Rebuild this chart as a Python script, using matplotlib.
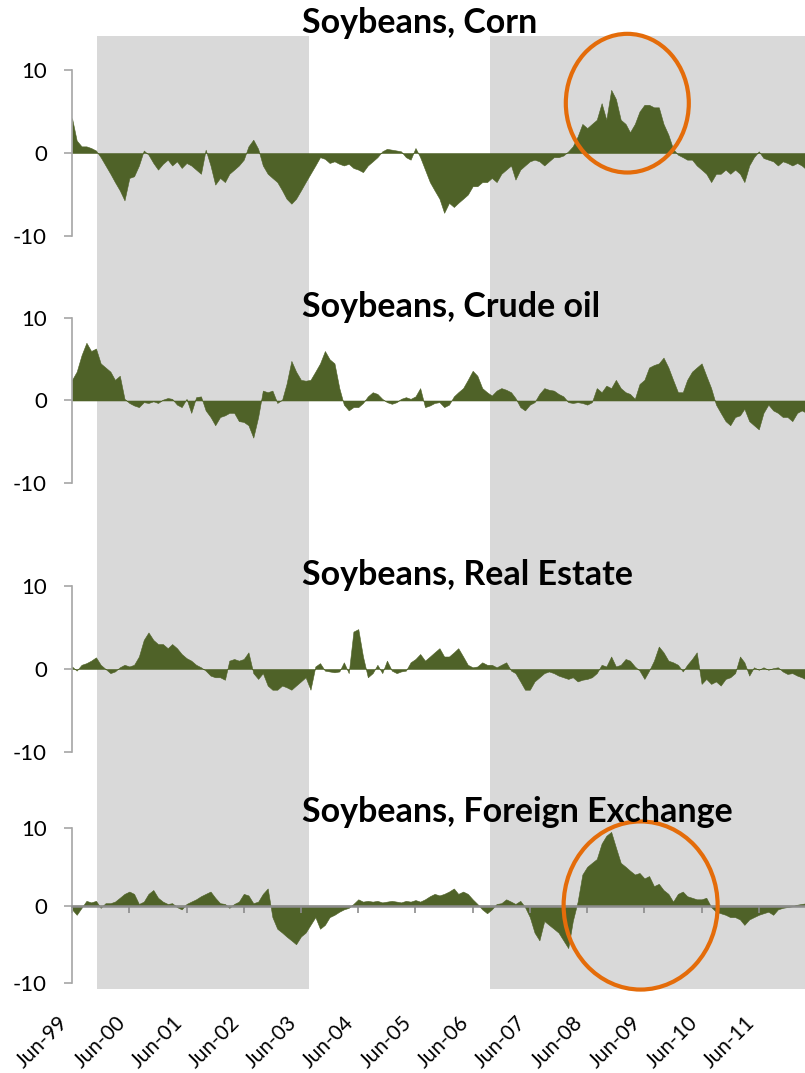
"""Rolling correlation-style panels: soybeans against four other markets."""

import matplotlib
import matplotlib.dates as mdates
import numpy as np
import pandas as pd
from matplotlib.patches import Ellipse

matplotlib.use("Agg")
import matplotlib.pyplot as plt  # noqa: E402

plt.rcParams["font.family"] = ["Lato", "DejaVu Sans"]
plt.rcParams["axes.unicode_minus"] = False

# monthly readings, Jun-99 .. Apr-12
months = pd.date_range("1999-06-01", periods=155, freq="MS")

corn = [
    4.2, 1.5, 0.8, 0.8, 0.6, 0.3, -0.5, -1.5, -2.5, -3.5, -4.5, -5.7,
    -3.0, -2.8, -1.5, 0.3, -0.2, -1.2, -2.0, -1.3, -0.8, -1.5, -1.0, -1.8,
    -1.2, -1.5, -2.0, -2.5, 0.4, -1.5, -3.8, -3.0, -3.5, -2.5, -2.0, -1.5,
    -0.8, 0.8, 1.6, 0.5, -1.5, -2.5, -3.0, -3.5, -4.5, -5.5, -6.1, -5.5,
    -4.5, -3.5, -2.5, -1.5, -0.5, -0.7, -1.2, -1.0, -1.3, -1.5, -1.3, -1.8,
    -2.0, -2.3, -1.5, -1.0, -0.5, 0.2, 0.5, 0.4, 0.3, 0.2, -0.5, -0.8,
    0.6, -0.5, -2.0, -3.5, -4.5, -5.5, -7.2, -6.0, -6.5, -6.0, -5.5, -5.0,
    -4.0, -4.0, -3.5, -3.5, -3.0, -3.5, -2.5, -2.0, -1.5, -3.2, -2.0, -1.5,
    -1.0, -0.8, -1.0, -1.5, -1.0, -0.5, -0.5, -0.3, 0.2, 0.8, 2.0, 3.5,
    3.0, 3.5, 4.0, 6.0, 4.0, 7.6, 6.5, 4.0, 3.5, 2.5, 3.5, 5.0,
    5.8, 5.8, 5.5, 5.5, 3.5, 2.2, 0.5, -0.2, -0.5, -0.8, -0.8, -1.5,
    -2.0, -2.5, -3.5, -2.5, -2.5, -2.0, -2.5, -2.0, -2.5, -3.5, -1.5, -0.5,
    0.2, -0.6, -0.8, -1.0, -1.5, -1.0, -1.2, -1.5, -1.2, -1.5, -2.0,
]
crude_oil = [
    2.5, 3.5, 5.5, 7.0, 6.0, 6.3, 4.5, 4.0, 3.5, 2.5, 3.0, 0.2,
    -0.3, -0.6, -0.8, -0.2, -0.3, -0.1, -0.3, 0.1, 0.3, 0.2, -0.5, -0.8,
    0.2, -1.5, 0.4, 0.5, -1.2, -2.0, -3.0, -2.0, -1.8, -1.5, -1.5, -2.5,
    -2.6, -3.0, -4.5, -2.0, 1.2, 1.0, 1.2, -0.3, 0.1, 2.0, 4.8, 3.5,
    2.5, 2.4, 2.5, 3.5, 4.5, 6.0, 5.0, 4.5, 1.5, -0.5, -1.2, -0.8,
    -0.8, -0.3, 0.5, 1.0, 0.8, 0.2, -0.2, -0.4, -0.2, 0.2, 0.4, 0.2,
    0.5, 1.5, -0.8, -0.6, -0.3, -0.2, -0.8, -0.5, 0.5, 1.0, 1.5, 2.5,
    3.6, 3.0, 1.5, 1.0, 0.6, 1.2, 1.5, 1.3, 1.0, 0.3, -0.8, -1.2,
    -0.5, -0.2, 0.8, 1.5, 1.3, 1.2, 0.8, 0.5, -0.2, -0.3, -0.2, -0.3,
    -0.5, -0.2, 1.5, 1.0, 1.8, 1.5, 2.5, 1.5, 1.0, 0.8, 0.2, 2.0,
    2.5, 4.0, 4.3, 4.5, 5.2, 4.0, 2.5, 1.0, 1.0, 2.5, 3.5, 4.0,
    4.5, 3.0, 1.5, -0.5, -1.5, -2.5, -3.0, -2.0, -1.8, -1.0, -2.5, -3.0,
    -3.5, -1.5, -0.5, -1.2, -1.5, -2.0, -2.0, -2.5, -1.5, -1.2, -1.5,
]
real_estate = [
    0.3, -0.2, 0.5, 0.7, 1.0, 1.4, 0.5, 0.0, -0.5, -0.3, 0.2, 0.5,
    0.3, 0.5, 1.5, 3.5, 4.4, 3.5, 3.0, 3.0, 2.5, 3.0, 2.5, 1.8,
    1.3, 1.0, 0.5, 0.2, -0.2, -0.8, -1.0, -1.0, -1.3, 1.0, 1.2, 1.0,
    1.2, 2.0, -0.5, -1.2, -0.5, -2.0, -2.5, -2.5, -2.0, -2.2, -2.5, -2.0,
    -1.5, -1.0, -2.5, 0.3, 0.7, -0.2, -0.3, -0.4, -0.3, 0.8, -0.5, 4.5,
    4.8, 1.5, -1.0, -0.5, 0.5, -0.5, 1.0, -0.2, -0.5, -0.3, -0.2, 0.8,
    1.2, 1.8, 1.0, 1.5, 2.0, 2.5, 1.5, 1.5, 2.0, 2.5, 1.5, 0.5,
    0.2, 0.3, 0.8, 0.5, 0.5, 0.2, 0.5, 0.8, -0.2, -0.5, -1.5, -2.5,
    -2.5, -1.5, -1.0, -0.5, -0.3, -0.5, -0.8, -1.0, -1.2, -1.0, -1.5, -1.3,
    -1.2, -1.0, -0.5, 0.5, 0.3, 1.5, 0.3, 0.5, 1.2, 1.0, 0.3, -0.2,
    -1.2, -0.2, 1.0, 2.7, 2.0, 1.0, 0.8, 0.5, -0.3, 0.5, 1.2, 2.0,
    -1.8, -1.2, -1.8, -1.5, -2.0, -1.2, -1.0, -0.5, 1.5, 0.8, -0.8, 0.2,
    -0.1, 0.2, -0.1, 0.1, 0.2, -0.3, -0.6, -0.5, -0.8, -1.0, -1.3,
]
foreign_exchange = [
    -0.5, -1.2, -0.3, 0.6, 0.4, 0.6, -0.3, 0.3, 0.3, 0.5, 1.0, 1.5,
    1.8, 1.5, 0.2, 0.5, 1.5, 2.0, 1.0, 0.5, 0.2, 0.3, -0.2, -0.5,
    0.2, 0.5, 0.8, 1.2, 1.5, 1.8, 1.0, 0.3, 0.2, -0.3, 0.2, 0.5,
    1.5, 1.3, 0.3, 0.5, 1.5, 2.2, -1.5, -3.0, -3.5, -4.0, -4.5, -5.0,
    -4.0, -3.5, -2.5, -1.5, -3.0, -2.5, -1.5, -1.2, -0.8, -0.5, -0.3, 0.2,
    0.8, 0.5, 0.6, 0.5, 0.6, 0.4, 0.5, 0.6, 0.5, 0.4, 0.6, 0.5,
    0.7, 0.5, 0.8, 1.2, 1.5, 1.3, 1.5, 1.8, 2.2, 1.5, 1.8, 1.5,
    0.8, 0.2, -0.5, -1.0, -0.5, 0.2, 0.3, 0.8, 0.5, 0.2, 0.6, -0.2,
    -1.5, -3.5, -4.5, -2.0, -2.5, -3.0, -3.5, -4.5, -5.5, -2.0, 0.5, 4.0,
    5.0, 5.5, 6.0, 8.0, 9.0, 9.5, 7.5, 5.5, 5.0, 4.5, 4.0, 4.2,
    3.5, 3.8, 2.5, 2.8, 2.0, 1.5, 0.5, 1.5, 1.8, 1.2, 1.0, 0.8,
    0.8, 1.0, -0.2, -0.8, -1.0, -1.2, -1.5, -1.5, -1.8, -2.5, -1.8, -1.5,
    -1.2, -1.0, -0.8, -1.2, -0.5, -0.3, -0.2, -0.1, 0.1, 0.2, 0.3,
]

titles = [
    "Soybeans, Corn",
    "Soybeans, Crude oil",
    "Soybeans, Real Estate",
    "Soybeans, Foreign Exchange",
]
series = [corn, crude_oil, real_estate, foreign_exchange]

tick_dates = pd.date_range("1999-06-01", "2011-06-01", freq="12MS")
tick_labels = [d.strftime("Jun-%y") for d in tick_dates]

# shaded periods and highlighted episodes
shaded = [("1999-11-08", "2003-07-20"), ("2006-09-19", "2012-03-22")]
highlights = {
    0: ("2009-02-12", 785, 6.0, 16.7),
    3: ("2009-05-08", 983, 0.0, 21.7),
}

GREEN = "#4F6228"
GRAY_AXIS = "#A6A6A6"
ORANGE = "#E46C0A"

x = mdates.date2num(months)
x_ticks = mdates.date2num(tick_dates)
x_lim = (mdates.date2num(months[0]), mdates.date2num(pd.Timestamp("2012-03-22")))

fig = plt.figure(figsize=(8.05, 10.73), dpi=100)
left = 72 / 805

background = fig.add_axes([left, 0.0783, 1 - left, 0.9665 - 0.0783], zorder=0)
background.set_xlim(x_lim)
for start, end in shaded:
    background.axvspan(
        mdates.date2num(pd.Timestamp(start)),
        mdates.date2num(pd.Timestamp(end)),
        color="#D9D9D9",
        lw=0,
    )
background.axis("off")

panel_rows = [(0.7800, 0.9348), (0.5499, 0.7036), (0.2992, 0.4539), (0.0839, 0.2283)]
title_y = [1 - 23 / 1073, 1 - 307 / 1073, 1 - 575 / 1073, 1 - 812 / 1073]

for i, (values, title) in enumerate(zip(series, titles)):
    bottom, top = panel_rows[i]
    ax = fig.add_axes([left, bottom, 1 - left, top - bottom], zorder=1)
    ax.set_facecolor("none")
    ax.fill_between(x, 0, np.array(values), color=GREEN, lw=0.4)
    ax.set_xlim(x_lim)
    ax.set_ylim(-10, 10)
    ax.set_yticks([-10, 0, 10])
    for side in ("top", "right"):
        ax.spines[side].set_visible(False)
    ax.spines["left"].set_color(GRAY_AXIS)
    ax.spines["left"].set_linewidth(1.2)
    ax.tick_params(
        axis="y", length=6, width=1.2, color=GRAY_AXIS, pad=12, labelsize=16
    )

    if i < 3:
        ax.spines["bottom"].set_visible(False)
        ax.set_xticks([])
    else:
        ax.spines["bottom"].set_position(("data", 0))
        ax.spines["bottom"].set_color("#8C8C8C")
        ax.spines["bottom"].set_linewidth(1.8)
        ax.set_xticks(x_ticks)
        ax.tick_params(
            axis="x", length=5, width=1.2, color="#8C8C8C", labelbottom=False
        )
        labels_axis = ax.secondary_xaxis(0)
        labels_axis.set_xticks(x_ticks, labels=tick_labels)
        labels_axis.spines["bottom"].set_visible(False)
        labels_axis.tick_params(length=0, pad=21, labelsize=15)
        for label in labels_axis.get_xticklabels():
            label.set_rotation(45)
            label.set_ha("right")
            label.set_va("top")

    if i in highlights:
        center, width_days, y_mid, height = highlights[i]
        ax.add_patch(
            Ellipse(
                (mdates.date2num(pd.Timestamp(center)), y_mid),
                width_days,
                height,
                fill=False,
                edgecolor=ORANGE,
                lw=3,
                clip_on=False,
                zorder=5,
            )
        )

    fig.text(
        0.375, title_y[i], title, fontsize=24.5, fontweight="bold", va="center"
    )

fig.savefig("out.png", dpi=100)
